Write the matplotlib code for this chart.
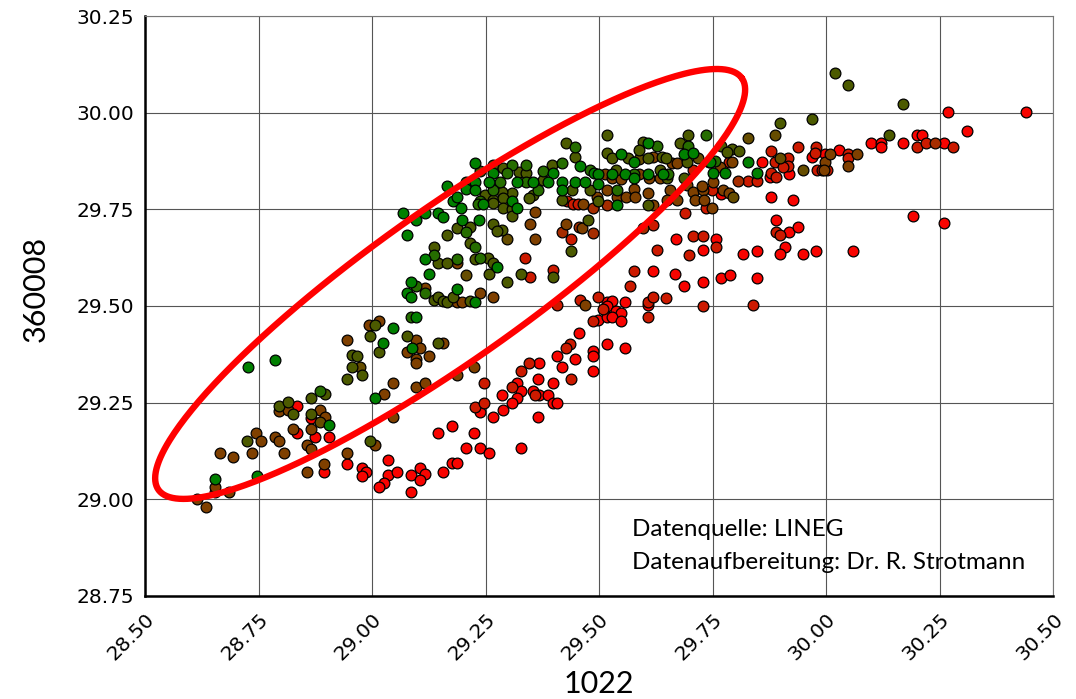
import numpy as np
import matplotlib
matplotlib.use("Agg")
import matplotlib.pyplot as plt
from matplotlib.colors import LinearSegmentedColormap

# --- Data, grouped by marker shade (0 = red, 1 = green) ---
red_x = [28.835, 28.835, 28.866, 28.874, 28.905, 28.894, 28.945, 28.978, 28.987, 28.978,
         29.035, 29.035, 29.026, 29.015, 29.055, 29.086, 29.106, 29.117, 29.106, 29.086,
         29.156, 29.176, 29.187, 29.145, 29.176, 29.207, 29.225, 29.238, 29.238, 29.258,
         29.328, 29.456, 29.407, 29.447, 29.418, 29.368, 29.366, 29.399, 29.319, 29.328,
         29.286, 29.319, 29.308, 29.355, 29.368, 29.388, 29.399, 29.407, 29.289, 29.267,
         29.366, 29.670, 29.729, 29.619, 29.667, 29.687, 29.729, 29.518, 29.529, 29.557,
         29.518, 29.537, 29.548, 29.608, 29.498, 29.518, 29.529, 29.548, 29.487, 29.487,
         29.518, 29.557, 29.487, 29.859, 29.969, 29.998, 29.918, 29.877, 29.769, 29.878,
         29.927, 29.890, 29.918, 29.938, 29.910, 29.898, 29.949, 29.978, 29.817, 29.848,
         29.758, 29.769, 29.789, 29.848, 30.269, 30.440, 30.311, 30.099, 30.121, 30.121,
         30.170, 30.200, 30.211, 30.260, 30.029, 30.192, 30.260, 30.059]
red_y = [29.241, 29.172, 29.210, 29.161, 29.161, 29.071, 29.091, 29.081, 29.071, 29.060,
         29.102, 29.063, 29.042, 29.032, 29.071, 29.063, 29.081, 29.066, 29.050, 29.019,
         29.071, 29.094, 29.094, 29.172, 29.190, 29.133, 29.172, 29.133, 29.226, 29.120,
         29.133, 29.430, 29.371, 29.363, 29.342, 29.353, 29.311, 29.301, 29.301, 29.280,
         29.270, 29.262, 29.249, 29.280, 29.270, 29.270, 29.249, 29.249, 29.231, 29.213,
         29.213, 29.673, 29.645, 29.591, 29.583, 29.552, 29.562, 29.510, 29.513, 29.510,
         29.500, 29.487, 29.482, 29.503, 29.464, 29.472, 29.472, 29.461, 29.384, 29.371,
         29.402, 29.391, 29.332, 29.872, 29.885, 29.893, 29.841, 29.834, 29.790, 29.782,
         29.774, 29.722, 29.691, 29.704, 29.653, 29.635, 29.635, 29.642, 29.635, 29.642,
         29.673, 29.572, 29.580, 29.572, 30.002, 30.002, 29.953, 29.922, 29.922, 29.911,
         29.922, 29.942, 29.942, 29.922, 29.903, 29.733, 29.715, 29.642]

darkred_x = [29.227, 29.247, 29.429, 29.443, 29.454, 29.438, 29.337, 29.348, 29.399, 29.407,
             29.458, 29.436, 29.427, 29.438, 29.346, 29.328, 29.247, 29.308, 29.359, 29.707,
             29.689, 29.736, 29.619, 29.628, 29.707, 29.729, 29.698, 29.577, 29.568, 29.498,
             29.608, 29.619, 29.648, 29.509, 29.729, 29.487, 29.608, 29.878, 29.938, 29.978,
             29.976, 29.786, 29.887, 29.916, 29.916, 29.878, 29.905, 29.980, 29.828, 29.848,
             29.890, 29.749, 29.890, 29.898, 29.758, 29.839, 30.200, 30.220, 30.280, 30.048,
             30.048, 29.991, 30.002]
darkred_y = [29.239, 29.249, 29.772, 29.764, 29.764, 29.673, 29.624, 29.575, 29.593, 29.503,
             29.516, 29.402, 29.391, 29.311, 29.353, 29.332, 29.301, 29.291, 29.270, 29.852,
             29.741, 29.753, 29.710, 29.645, 29.681, 29.681, 29.632, 29.591, 29.552, 29.523,
             29.510, 29.523, 29.521, 29.492, 29.500, 29.461, 29.472, 29.901, 29.911, 29.911,
             29.896, 29.872, 29.872, 29.883, 29.862, 29.844, 29.860, 29.852, 29.823, 29.823,
             29.834, 29.800, 29.691, 29.684, 29.653, 29.503, 29.911, 29.922, 29.911, 29.893,
             29.883, 29.852, 29.852]

rust_x = [29.418, 29.456, 29.487, 29.518, 29.487, 29.597, 29.806, 30.240]
rust_y = [29.691, 29.704, 29.753, 29.761, 29.689, 29.702, 29.823, 29.922]

brown_x = [28.615, 28.634, 28.654, 28.654, 28.685, 28.665, 28.694, 28.744, 28.755, 28.736,
           28.786, 28.795, 28.806, 28.795, 28.815, 28.826, 28.885, 28.896, 28.866, 28.857,
           28.866, 28.857, 28.894, 28.945, 28.993, 29.015, 29.097, 29.077, 29.106, 29.126,
           29.097, 29.097, 29.156, 29.046, 29.026, 29.097, 29.117, 29.187, 29.225, 29.046,
           29.007, 28.945, 29.187, 29.117, 29.187, 29.198, 29.238, 29.465, 29.359, 29.348,
           29.427, 29.359, 29.267, 29.469, 29.619, 29.661, 29.672, 29.513, 29.588, 29.529,
           29.548, 29.610, 29.634, 29.518, 29.577, 29.608, 29.656, 29.694, 29.707, 29.729,
           29.496, 29.540, 29.559, 29.579, 29.619, 29.650, 29.672, 29.711, 29.731, 29.463,
           29.998, 29.793, 29.766, 29.996, 29.751, 29.727, 29.773, 29.786, 29.749, 30.009,
           30.068, 30.048]
brown_y = [29.001, 28.980, 29.019, 29.032, 29.019, 29.120, 29.110, 29.172, 29.151, 29.120,
           29.161, 29.151, 29.120, 29.229, 29.231, 29.182, 29.231, 29.213, 29.182, 29.141,
           29.130, 29.071, 29.091, 29.412, 29.451, 29.461, 29.412, 29.381, 29.391, 29.371,
           29.363, 29.353, 29.404, 29.301, 29.272, 29.291, 29.301, 29.322, 29.342, 29.213,
           29.141, 29.120, 29.611, 29.547, 29.510, 29.510, 29.534, 29.764, 29.743, 29.712,
           29.712, 29.673, 29.523, 29.503, 29.885, 29.870, 29.870, 29.841, 29.841, 29.831,
           29.828, 29.831, 29.831, 29.800, 29.803, 29.792, 29.800, 29.813, 29.795, 29.800,
           29.782, 29.782, 29.782, 29.782, 29.761, 29.774, 29.774, 29.774, 29.774, 29.702,
           29.872, 29.872, 29.860, 29.852, 29.821, 29.810, 29.800, 29.792, 29.753, 29.893,
           29.893, 29.862]

khaki_x = [28.885, 28.974, 29.207, 29.297, 29.588, 29.718, 29.828, 29.887, 29.898, 29.949,
           29.795]
khaki_y = [29.200, 29.342, 29.580, 29.673, 29.880, 29.883, 29.935, 29.942, 29.883, 29.852,
           29.782]

olive_x = [28.725, 28.795, 28.815, 28.826, 28.866, 28.896, 28.866, 28.956, 28.967, 28.956,
           28.978, 28.945, 29.007, 28.996, 29.015, 29.077, 29.145, 28.996, 29.187, 29.216,
           29.165, 29.216, 29.137, 29.145, 29.165, 29.227, 29.137, 29.145, 29.156, 29.165,
           29.178, 29.216, 29.427, 29.447, 29.267, 29.289, 29.238, 29.324, 29.339, 29.396,
           29.377, 29.308, 29.286, 29.440, 29.355, 29.346, 29.249, 29.267, 29.289, 29.418,
           29.267, 29.289, 29.308, 29.267, 29.286, 29.308, 29.476, 29.275, 29.256, 29.267,
           29.438, 29.258, 29.297, 29.328, 29.399, 29.518, 29.597, 29.678, 29.696, 29.518,
           29.529, 29.564, 29.588, 29.608, 29.639, 29.648, 29.694, 29.742, 29.537, 29.634,
           29.650, 29.687, 29.480, 29.498, 29.608, 29.898, 29.969, 29.769, 29.793, 29.808,
           29.782, 30.020, 30.048, 30.170, 30.139]
olive_y = [29.151, 29.241, 29.252, 29.221, 29.262, 29.272, 29.221, 29.373, 29.371, 29.342,
           29.322, 29.311, 29.451, 29.422, 29.381, 29.422, 29.404, 29.151, 29.702, 29.704,
           29.684, 29.663, 29.653, 29.611, 29.611, 29.622, 29.516, 29.523, 29.513, 29.510,
           29.523, 29.513, 29.922, 29.885, 29.865, 29.857, 29.849, 29.847, 29.844, 29.865,
           29.826, 29.792, 29.795, 29.800, 29.787, 29.779, 29.787, 29.774, 29.779, 29.774,
           29.766, 29.753, 29.751, 29.712, 29.697, 29.733, 29.722, 29.694, 29.624, 29.611,
           29.642, 29.583, 29.562, 29.583, 29.575, 29.942, 29.924, 29.922, 29.942, 29.896,
           29.883, 29.883, 29.903, 29.883, 29.885, 29.883, 29.872, 29.872, 29.852, 29.852,
           29.831, 29.831, 29.800, 29.772, 29.761, 29.973, 29.984, 29.914, 29.906, 29.901,
           29.898, 30.102, 30.072, 30.022, 29.942]

moss_x = [28.885, 29.086, 29.207, 29.227, 29.137, 29.187, 29.097, 29.117, 29.447, 29.308,
          29.339, 29.297, 29.377, 29.418, 29.282, 29.339, 29.267, 29.366, 29.238, 29.233,
          29.238, 29.628, 29.696, 29.736, 29.480, 29.577, 29.652, 29.540, 29.756]
moss_y = [29.280, 29.472, 29.691, 29.653, 29.632, 29.622, 29.552, 29.534, 29.911, 29.865,
          29.865, 29.844, 29.849, 29.870, 29.821, 29.821, 29.800, 29.800, 29.772, 29.764,
          29.624, 29.914, 29.914, 29.942, 29.852, 29.841, 29.841, 29.800, 29.875]

green_x = [28.654, 28.747, 28.727, 28.786, 28.905, 29.024, 29.046, 29.097, 29.088, 29.007,
           29.068, 29.097, 29.117, 29.145, 29.156, 29.077, 29.165, 29.178, 29.187, 29.196,
           29.198, 29.207, 29.207, 29.227, 29.236, 29.117, 29.126, 29.086, 29.077, 29.086,
           29.187, 29.227, 29.227, 29.267, 29.458, 29.399, 29.258, 29.319, 29.355, 29.388,
           29.418, 29.447, 29.469, 29.227, 29.418, 29.308, 29.244, 29.319, 29.275, 29.608,
           29.548, 29.577, 29.687, 29.707, 29.489, 29.498, 29.529, 29.557, 29.608, 29.641,
           29.577, 29.498, 29.540, 29.744, 29.828, 29.751, 29.777, 29.848]
green_y = [29.053, 29.060, 29.342, 29.360, 29.192, 29.404, 29.443, 29.472, 29.391, 29.262,
           29.741, 29.722, 29.741, 29.741, 29.730, 29.684, 29.810, 29.772, 29.782, 29.753,
           29.722, 29.821, 29.803, 29.821, 29.722, 29.622, 29.583, 29.562, 29.534, 29.523,
           29.544, 29.510, 29.870, 29.844, 29.862, 29.844, 29.821, 29.821, 29.821, 29.821,
           29.821, 29.821, 29.821, 29.800, 29.800, 29.772, 29.764, 29.753, 29.601, 29.922,
           29.893, 29.872, 29.893, 29.896, 29.844, 29.841, 29.841, 29.841, 29.841, 29.841,
           29.831, 29.816, 29.761, 29.872, 29.872, 29.844, 29.844, 29.844]

shade_groups = [
    (red_x, red_y, 0.03),
    (darkred_x, darkred_y, 0.2),
    (rust_x, rust_y, 0.35),
    (brown_x, brown_y, 0.5),
    (khaki_x, khaki_y, 0.6),
    (olive_x, olive_y, 0.7),
    (moss_x, moss_y, 0.85),
    (green_x, green_y, 1.0),
]

x_ticks = [28.50, 28.75, 29.00, 29.25, 29.50, 29.75, 30.00, 30.25, 30.50]
y_ticks = [28.75, 29.00, 29.25, 29.50, 29.75, 30.00, 30.25]

# ellipse drawn over the green cluster (centre in data units, axes in pixels)
ellipse_center = (29.172, 29.557)
ellipse_axes_px = (357, 76)
ellipse_angle = 35.2


def draw_ellipse(ax, fig, center, axes_px, angle_deg):
    """Draw a rotated ellipse whose shape is given in screen pixels."""
    pos = ax.get_position()
    w_px = pos.width * fig.get_figwidth() * fig.dpi
    h_px = pos.height * fig.get_figheight() * fig.dpi
    x0, x1 = ax.get_xlim()
    y0, y1 = ax.get_ylim()
    sx = w_px / (x1 - x0)
    sy = h_px / (y1 - y0)

    a, b = axes_px
    th = np.deg2rad(angle_deg)
    t = np.linspace(0, 2 * np.pi, 400)
    dx = a * np.cos(t) * np.cos(th) - b * np.sin(t) * np.sin(th)
    dy = a * np.cos(t) * np.sin(th) + b * np.sin(t) * np.cos(th)
    ax.plot(center[0] + dx / sx, center[1] + dy / sy,
            color="#ff0000", linewidth=4.6, solid_capstyle="round", zorder=4)


fig = plt.figure(figsize=(10.76, 6.99), dpi=100)
ax = fig.add_axes([0.1348, 0.1474, 0.8439, 0.8297])

cmap = LinearSegmentedColormap.from_list("red_green", ["#ff0000", "#008000"])

for xs, ys, shade in shade_groups:
    ax.scatter(xs, ys, s=60, color=cmap(shade), edgecolors="black",
               linewidths=0.9, zorder=3)

ax.set_xlim(28.5, 30.5)
ax.set_ylim(28.75, 30.25)
ax.set_xticks(x_ticks)
ax.set_yticks(y_ticks)
ax.set_xticklabels([f"{v:.2f}" for v in x_ticks], rotation=45, ha="right",
                   rotation_mode="anchor", fontsize=14.5, family="DejaVu Sans")
ax.set_yticklabels([f"{v:.2f}" for v in y_ticks], fontsize=14.5, family="DejaVu Sans")
ax.tick_params(length=0, pad=8)
ax.tick_params(axis="x", pad=10)

ax.grid(True, color="#555555", linewidth=0.8, zorder=0)
ax.set_axisbelow(True)
for side in ["top", "right"]:
    ax.spines[side].set_color("#777777")
    ax.spines[side].set_linewidth(0.8)
for side in ["left", "bottom"]:
    ax.spines[side].set_color("black")
    ax.spines[side].set_linewidth(1.8)

ax.set_xlabel("1022", fontsize=22, family="Lato", va="center", ha="center")
ax.set_ylabel("360008", fontsize=22, family="Lato", va="center", ha="center")
ax.xaxis.set_label_coords(0.5, -0.151)
ax.yaxis.set_label_coords(-0.120, 0.53)

draw_ellipse(ax, fig, ellipse_center, ellipse_axes_px, ellipse_angle)

ax.text(0.536, 0.114, "Datenquelle: LINEG", transform=ax.transAxes,
        fontsize=17.5, family="Lato", va="center", ha="left", zorder=5)
ax.text(0.536, 0.057, "Datenaufbereitung: Dr. R. Strotmann", transform=ax.transAxes,
        fontsize=17.5, family="Lato", va="center", ha="left", zorder=5)

fig.savefig("out.png", dpi=100)
